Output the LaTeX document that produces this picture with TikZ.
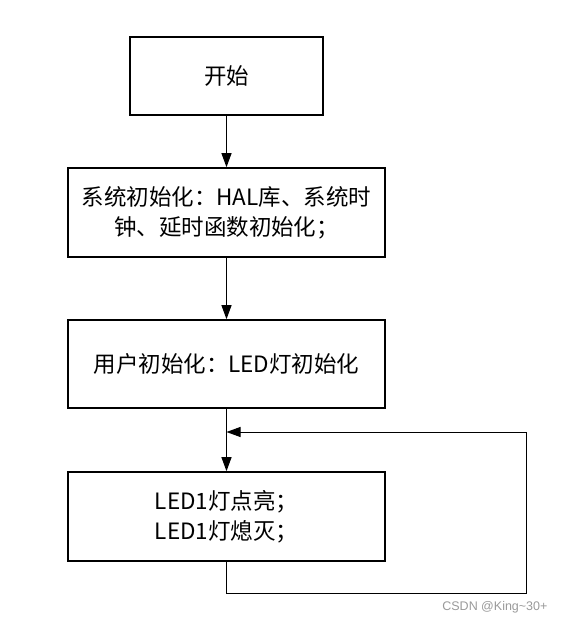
\documentclass[tikz,border=0pt]{standalone}
\usepackage{fontspec}
\setmainfont{Noto Sans CJK SC}
\newfontfamily\wmfont{Liberation Sans}
\usetikzlibrary{arrows.meta}
\begin{document}
\begin{tikzpicture}[x=1pt,y=-1pt,
  box/.style={draw,line width=1.6pt,align=center,inner sep=0pt,
    font=\fontsize{22.5}{30}\selectfont},
  conn/.style={line width=1pt,-{Triangle[length=14pt,width=10pt]}},
  plain/.style={line width=1pt}]
\useasboundingbox (0,0) rectangle (565,624);
\node[box,minimum width=193pt,minimum height=78pt] (start) at (226.5,76) {开始};
\node[box,minimum width=317pt,minimum height=89pt] (sys) at (226.5,212.5)
  {系统初始化：HAL库、系统时\\钟、延时函数初始化；};
\node[box,minimum width=317pt,minimum height=88pt] (user) at (226.5,364)
  {用户初始化：LED灯初始化};
\node[box,minimum width=317pt,minimum height=89pt] (led) at (226.5,516.5)
  {LED1灯点亮；\\LED1灯熄灭；};
\coordinate (lb) at (226.5,593);
\coordinate (rb) at (526,593);
\coordinate (rt) at (526,432);
\coordinate (merge) at (226.5,432);
\draw[conn] (start.south) -- (sys.north);
\draw[conn] (sys.south) -- (user.north);
\draw[conn] (user.south) -- (led.north);
\draw[conn] (led.south) -- (lb) -- (rb) -- (rt) -- (merge);
\node[text=black!40,font=\wmfont\fontsize{12.5}{14}\selectfont,anchor=east] (wm) at (551,607)
  {CSDN @King\char`\~30+};
\end{tikzpicture}
\end{document}
